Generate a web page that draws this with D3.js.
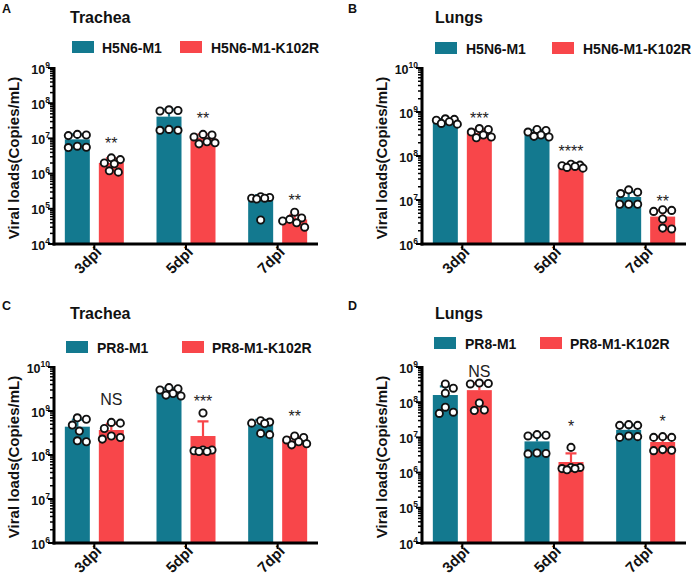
<!DOCTYPE html>
<html lang="en">
<head>
<meta charset="UTF-8" />
<title>Viral loads</title>
<style>
  body { margin: 0; background: #fff; }
  svg { display: block; font-family: "Liberation Sans", Arial, sans-serif; }
</style>
</head>
<body>
<div class="chart"></div>
<script src="https://cdn.jsdelivr.net/npm/d3@7"></script>
<script>

// ---- data ----
var days = ["3dpi", "5dpi", "7dpi"];

// A: H5N6, trachea
var aNames = ["H5N6-M1", "H5N6-M1-K102R"];
var aDomain = [1e4, 1e9];
var aWtMean = [9.4e6, 4.15e7, 1.8e5];
var aWtSd = [3.6e6, 2.4e7, 6.5e4];
var aWtDots = [[1.3e7, 1.25e7, 1.2e7, 6e6, 5.6e6, 5.5e6],
               [6.5e7, 6.2e7, 6.0e7, 1.8e7, 1.7e7, 1.7e7],
               [2.2e5, 2.1e5, 2.0e5, 2.0e5, 1.9e5, 4.8e4]];
var aMutMean = [2.0e6, 1.05e7, 5.0e4];
var aMutSd = [7e5, 2.5e6, 1.7e4];
var aMutDots = [[2.8e6, 2.5e6, 2.0e6, 1.9e6, 1.2e6, 1.1e6],
                [1.3e7, 1.25e7, 1.1e7, 8e6, 7.5e6, 7e6],
                [8e4, 5.5e4, 5e4, 4.5e4, 4e4, 3e4]];
var aSig = ["**", "**", "**"];
var aSigAt = [5.1e6, 2.6e7, 1.23e5];

// B: H5N6, lungs
var bNames = ["H5N6-M1", "H5N6-M1-K102R"];
var bDomain = [1e6, 1e10];
var bWtMean = [6.2e8, 3.4e8, 1.17e7];
var bWtSd = [7e7, 5e7, 3.5e6];
var bWtDots = [[7e8, 6.8e8, 6.5e8, 6e8, 5.5e8, 5.3e8],
               [4e8, 3.8e8, 3.5e8, 3e8, 2.8e8, 2.7e8],
               [1.7e7, 1.5e7, 1.4e7, 8e6, 8e6, 8e6]];
var bMutMean = [3.35e8, 6.0e7, 4.2e6];
var bMutSd = [6e7, 5e6, 1.6e6];
var bMutDots = [[4.2e8, 4e8, 3.5e8, 3e8, 2.7e8, 2.6e8],
                [6.5e7, 6.2e7, 6e7, 5.8e7, 5.5e7, 5.3e7],
                [6e6, 5.8e6, 5.5e6, 3.7e6, 2.3e6, 2.2e6]];
var bSig = ["***", "****", "**"];
var bSigAt = [5.4e8, 9.4e7, 6.8e6];

// C: PR8, trachea
var cNames = ["PR8-M1", "PR8-M1-K102R"];
var cDomain = [1e6, 1e10];
var cWtMean = [4.4e8, 2.77e9, 5.0e8];
var cWtSd = [2e8, 5e8, 1.3e8];
var cWtDots = [[7e8, 6.5e8, 4.8e8, 3.5e8, 2.1e8, 2.0e8],
               [3.4e9, 3.2e9, 3e9, 2.5e9, 2.3e9, 2.2e9],
               [6e8, 5.6e8, 5.3e8, 5.2e8, 3.1e8, 2.9e8]];
var cMutMean = [3.7e8, 2.7e8, 2.15e8];
var cMutSd = [1.4e8, 3.1e8, 4e7];
var cMutDots = [[5.5e8, 5.3e8, 4e8, 2.7e8, 2.5e8, 2.3e8],
                [9e8, 1.3e8, 1.3e8, 1.25e8, 1.2e8, 1.2e8],
                [2.7e8, 2.5e8, 2.2e8, 2e8, 1.8e8, 1.7e8]];
var cSig = ["NS", "***", "**"];
var cSigAt = [1.37e9, 1.23e9, 5.6e8];

// D: PR8, lungs
var dNames = ["PR8-M1", "PR8-M1-K102R"];
var dDomain = [1e4, 1e9];
var dWtMean = [1.6e8, 7.7e6, 1.64e7];
var dWtSd = [1.2e8, 4e6, 6e6];
var dWtDots = [[3.3e8, 2.5e8, 1.8e8, 7.2e7, 5.2e7, 4.8e7],
               [1.2e7, 1.15e7, 1.1e7, 3.6e6, 3.5e6, 3.4e6],
               [2.3e7, 2.2e7, 2.2e7, 1.1e7, 1.05e7, 1.0e7]];
var dMutMean = [2.2e8, 2.0e6, 7.4e6];
var dMutSd = [1.3e8, 1.5e6, 3e6];
var dMutDots = [[3.5e8, 3.4e8, 3.3e8, 9.5e7, 6e7, 5.8e7],
                [5.2e6, 1.4e6, 1.4e6, 1.3e6, 1.3e6, 1.2e6],
                [1.05e7, 1.0e7, 1.0e7, 4.5e6, 4.3e6, 4.2e6]];
var dSig = ["NS", "*", "*"];
var dSigAt = [5.1e8, 1.39e7, 1.93e7];

// ---- layout ----
var width = 696, height = 583;
var teal = "#13798f", red = "#f8464a";
var ink = "#111";

var panels = [
  {letter: "A", title: "Trachea", names: aNames, domain: aDomain,
   wt: [aWtMean, aWtSd, aWtDots], mut: [aMutMean, aMutSd, aMutDots], sig: aSig, sigAt: aSigAt,
   dx: 0, dy: 0, lx: [72, 102, 180, 211], ly: 41},
  {letter: "B", title: "Lungs", names: bNames, domain: bDomain,
   wt: [bWtMean, bWtSd, bWtDots], mut: [bMutMean, bMutSd, bMutDots], sig: bSig, sigAt: bSigAt,
   dx: 368, dy: 0, lx: [435, 466, 552, 583], ly: 42},
  {letter: "C", title: "Trachea", names: cNames, domain: cDomain,
   wt: [cWtMean, cWtSd, cWtDots], mut: [cMutMean, cMutSd, cMutDots], sig: cSig, sigAt: cSigAt,
   dx: 0, dy: 299, lx: [66, 97, 182, 212], ly: 341},
  {letter: "D", title: "Lungs", names: dNames, domain: dDomain,
   wt: [dWtMean, dWtSd, dWtDots], mut: [dMutMean, dMutSd, dMutDots], sig: dSig, sigAt: dSigAt,
   dx: 368, dy: 299, lx: [434, 465, 540, 570], ly: 337}
];

var svg = d3.select(".chart").append("svg")
    .attr("width", width)
    .attr("height", height);

var axisLayer = null;

panels.forEach(function(p, i) {
  var isTop = i < 2;
  svg.append("text")
     .attr("x", i % 2 ? 348 : 2).attr("y", isTop ? 13 : 310)
     .attr("font-size", 12.5).attr("font-weight", "bold").attr("fill", ink)
     .text(p.letter);
  svg.append("text")
     .attr("x", i % 2 ? 435 : 70).attr("y", isTop ? 23 : 319)
     .attr("font-size", 16).attr("font-weight", "bold").attr("fill", ink)
     .text(p.title);

  var leg = svg.append("g");
  [teal, red].forEach(function(c, k) {
    leg.append("rect")
       .attr("x", p.lx[k * 2]).attr("y", p.ly)
       .attr("width", 22).attr("height", 12)
       .attr("fill", c);
    leg.append("text")
       .attr("x", p.lx[k * 2 + 1]).attr("y", p.ly + 11.5)
       .attr("font-size", 14).attr("font-weight", "bold").attr("fill", ink)
       .text(p.names[k]);
  });

  drawPlot(p);
});

function drawPlot(p) {
  var g = svg.append("g").attr("transform", "translate(" + p.dx + "," + p.dy + ")");
  var left = 54, right = 318, ytop = 68, ybot = 244;

  var y = d3.scaleLog().domain(p.domain).range([ybot, ytop]);
  var x = d3.scalePoint().domain(days).range([left, right]).padding(0.44);

  var e0 = Math.round(Math.log10(p.domain[0])), e1 = Math.round(Math.log10(p.domain[1]));
  var majors = d3.range(e0, e1 + 1).map(function(e) { return Math.pow(10, e); });
  var minors = [];
  majors.slice(0, -1).forEach(function(m) {
    for (var k = 2; k < 10; k++) minors.push(m * k);
  });

  // bars
  var groups = [{s: p.wt, c: teal, off: -17}, {s: p.mut, c: red, off: 17}];
  groups.forEach(function(gr) {
    g.selectAll(null)
     .data(days)
     .enter()
     .append("rect")
     .attr("x", function(d) { return x(d) + gr.off - 12.5; })
     .attr("width", 25)
     .attr("y", function(d, j) { return y(gr.s[0][j]); })
     .attr("height", function(d, j) { return ybot - y(gr.s[0][j]); })
     .attr("fill", gr.c);

    // error bars (mean + SD)
    days.forEach(function(d, j) {
      var cx = x(d) + gr.off;
      var y0 = y(gr.s[0][j]), y1 = y(gr.s[0][j] + gr.s[1][j]);
      g.append("path")
       .attr("d", "M" + cx + "," + y0 + "V" + y1 + "M" + (cx - 5.5) + "," + y1 + "H" + (cx + 5.5))
       .attr("stroke", gr.c).attr("stroke-width", 2.2).attr("fill", "none");
    });

    // dots
    days.forEach(function(d, j) {
      var pts = swarm(gr.s[2][j], y);
      g.selectAll(null)
       .data(pts)
       .enter()
       .append("circle")
       .attr("cx", function(q) { return x(d) + gr.off + q.dx; })
       .attr("cy", function(q) { return q.y; })
       .attr("r", 3.6)
       .attr("fill", "#fff")
       .attr("stroke", ink)
       .attr("stroke-width", 1.9);
    });
  });

  // significance marks over the mutant bars
  g.selectAll(null)
   .data(days)
   .enter()
   .append("text")
   .attr("x", function(d) { return x(d) + 17; })
   .attr("y", function(d, j) { return y(p.sigAt[j]); })
   .attr("text-anchor", "middle")
   .attr("font-size", 16)
   .attr("fill", "#222")
   .text(function(d, j) { return p.sig[j]; });

  majors.forEach(function(m) {
    var t = g.append("text")
       .attr("x", 50).attr("y", y(m) + 5.5)
       .attr("text-anchor", "end")
       .attr("font-weight", "bold").attr("fill", ink);
    t.append("tspan").attr("font-size", 12.5).text("10");
    t.append("tspan").attr("font-size", 8.5).attr("dy", -6).text(Math.round(Math.log10(m)));
  });

  g.append("text")
   .attr("transform", "translate(19," + ((ytop + ybot) / 2 + 2) + ") rotate(-90)")
   .attr("text-anchor", "middle")
   .attr("font-size", 15).attr("font-weight", "bold").attr("fill", ink)
   .text("Viral loads(Copies/mL)");

  g.selectAll(null)
   .data(days)
   .enter()
   .append("text")
   .attr("transform", function(d) { return "translate(" + (x(d) + 8) + "," + (ybot + 9) + ") rotate(-45)"; })
   .attr("text-anchor", "end")
   .attr("font-size", 15).attr("font-weight", "bold").attr("fill", ink)
   .text(function(d) { return d; });

  // axes as black strips in page coordinates, on top of everything
  var ox = p.dx, oy = p.dy;
  var strips = [
    [ox + left - 1.5, oy + ytop - 1, 3, ybot - ytop + 2.5],
    [ox + left - 1.5, oy + ybot - 1.5, right - left + 1.5, 3]
  ];
  majors.forEach(function(m) { strips.push([ox + left - 6, oy + y(m) - 1, 6, 2]); });
  minors.forEach(function(m) { strips.push([ox + left - 4, oy + y(m) - 0.75, 4, 1.5]); });
  days.forEach(function(t) { strips.push([ox + x(t) - 1, oy + ybot, 2, 6]); });

  svg.selectAll(null)
     .data(strips)
     .enter()
     .append("rect")
     .attr("x", function(s) { return s[0]; })
     .attr("y", function(s) { return s[1]; })
     .attr("width", function(s) { return s[2]; })
     .attr("height", function(s) { return s[3]; })
     .style("fill", "#000");
}

// simple swarm layout: biggest values first, nudge sideways until free
function swarm(vals, y) {
  var placed = [];
  var minDist = 8.6;
  vals.slice().sort(function(a, b) { return b - a; }).forEach(function(v) {
    var py = y(v), best = 0, bestGap = -1;
    for (var s = 0; s <= 24; s++) {
      var off = (s % 2 ? 1 : -1) * Math.ceil(s / 2);
      var gap = d3.min(placed, function(q) { return Math.hypot(q.dx - off, q.y - py); });
      if (gap === undefined || gap >= minDist) { best = off; break; }
      if (gap > bestGap) { bestGap = gap; best = off; }
    }
    placed.push({dx: best, y: py});
  });
  return placed;
}
</script>
</body>
</html>
